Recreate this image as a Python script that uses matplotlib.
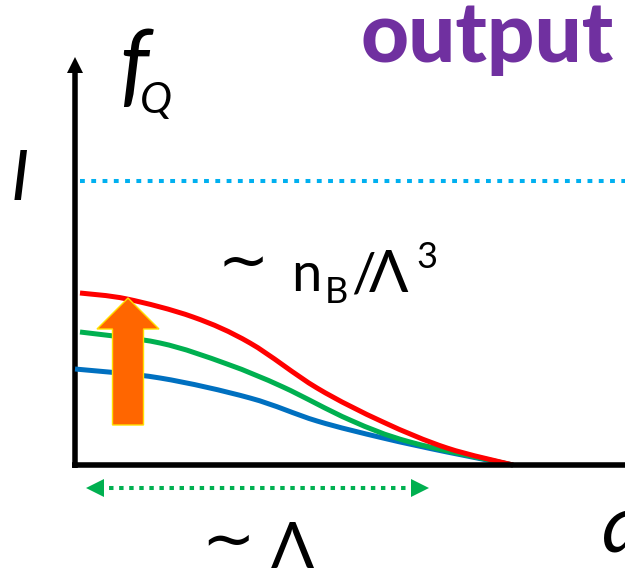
import numpy as np
import matplotlib
matplotlib.use("Agg")
import matplotlib.pyplot as plt
from matplotlib.path import Path
from matplotlib.patches import PathPatch

plt.rcParams['font.family'] = ['Lato', 'DejaVu Sans']

# spectra f_Q(q) for three values of the output yield (low -> high)
q_red = [0.05, 0.52, 1.18, 1.75, 2.42, 3.08, 3.72, 4.38]
f_red = [1.72, 1.66, 1.48, 1.22, 0.77, 0.43, 0.17, 0.0]
q_green = [0.05, 0.85, 1.52, 2.08, 2.75, 3.35, 4.38]
f_green = [1.33, 1.22, 1.01, 0.78, 0.45, 0.23, 0.0]
q_blue = [0.0, 0.85, 1.75, 2.42, 3.08, 3.72, 4.38]
f_blue = [0.96, 0.87, 0.67, 0.44, 0.27, 0.13, 0.0]

level_I = 2.84            # dotted upper level "I"
width_lam = [0.12, 3.53]  # extent of the ~Lambda range
y_lam = -0.23


def smooth_path(x, y):
    """Catmull-Rom style bezier path through the points"""
    p = np.column_stack([x, y])
    verts = [p[0]]
    codes = [Path.MOVETO]
    n = len(p)
    for i in range(n - 1):
        p0 = p[max(i - 1, 0)]
        p1 = p[i]
        p2 = p[i + 1]
        p3 = p[min(i + 2, n - 1)]
        c1 = p1 + (p2 - p0) / 6.0
        c2 = p2 - (p3 - p1) / 6.0
        verts += [c1, c2, p2]
        codes += [Path.CURVE4] * 3
    return Path(verts, codes)


fig = plt.figure(figsize=(6.25, 5.69), dpi=100)
ax = fig.add_axes([0, 0, 1, 1])
ax.set_xlim(-0.75, 5.5)
ax.set_ylim(-1.04, 4.65)
ax.axis('off')

# axes with arrow on the vertical one
ax.plot([-0.03, 5.6], [0, 0], color='black', lw=4.0, solid_capstyle='butt')
ax.arrow(0, -0.03, 0, 4.11, width=0.055, head_width=0.16, head_length=0.16,
         length_includes_head=True, color='black', lw=0)

# level I
ax.plot([0.05, 5.5], [level_I, level_I], color='#00B0F0', lw=2.9,
        linestyle=(0, (1.2, 1.6)), dash_capstyle='butt')

# curves
for q, f, c in [(q_blue, f_blue, '#0070C0'), (q_green, f_green, '#00B050'),
                (q_red, f_red, '#FF0000')]:
    ax.add_patch(PathPatch(smooth_path(q, f), facecolor='none', edgecolor=c,
                           lw=3.6, capstyle='butt'))

# orange arrow showing the increase
ax.arrow(0.53, 0.40, 0, 1.27, width=0.31, head_width=0.62, head_length=0.31,
         length_includes_head=True, facecolor='#FF6600', edgecolor='#FFE000', lw=1.0)

# ~Lambda double arrow
ax.plot([width_lam[0] + 0.12, width_lam[1] - 0.12], [y_lam, y_lam], color='#00B050',
        lw=2.9, linestyle=(0, (1.1, 1.4)), dash_capstyle='butt')
ax.plot([width_lam[0] + 0.08], [y_lam], marker='<', color='#00B050', ms=13, mew=0)
ax.plot([width_lam[1] - 0.08], [y_lam], marker='>', color='#00B050', ms=13, mew=0)

# labels
ax.text(4.12, 4.03, 'output', color='#7030A0', fontsize=60, fontweight='black',
        ha='center', va='baseline')
ax.text(0.44, 3.70, 'f', fontsize=66, style='italic', ha='left', va='baseline')
ax.text(0.65, 3.52, 'Q', fontsize=31, style='italic', ha='left', va='baseline')
ax.text(-0.55, 2.85, 'I', fontsize=50, style='italic', ha='center', va='center')

# ~ n_B / Lambda^3
ax.text(1.68, 2.00, '∼', fontsize=44, family='DejaVu Sans', ha='center', va='center')
ax.text(2.16, 1.74, 'n', fontsize=39, ha='left', va='baseline')
ax.text(2.50, 1.62, 'B', fontsize=26, ha='left', va='baseline')
ax.text(2.76, 1.74, '/', fontsize=39, ha='left', va='baseline')
ax.text(2.94, 1.73, 'Λ', fontsize=42, ha='left', va='baseline')
ax.text(3.41, 1.97, '3', fontsize=26, ha='left', va='baseline')

# ~ Lambda
ax.text(1.53, -0.76, '∼', fontsize=46, family='DejaVu Sans', ha='center', va='center')
ax.text(1.96, -1.03, 'Λ', fontsize=46, ha='left', va='baseline')
ax.text(5.27, -0.87, 'q', fontsize=58, style='italic', ha='left', va='baseline')

fig.savefig('out.png', dpi=100)
